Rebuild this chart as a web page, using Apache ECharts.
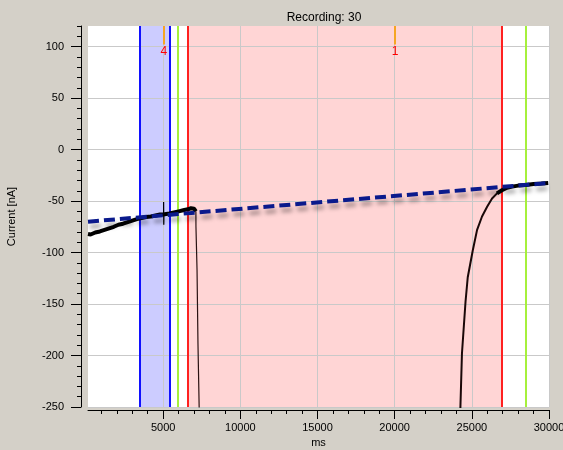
<!DOCTYPE html>
<html>
<head>
<meta charset="utf-8">
<script src="https://cdn.jsdelivr.net/npm/echarts@6/dist/echarts.min.js"></script>
<style>
html,body{margin:0;padding:0;background:#d4d0c8;overflow:hidden;}
#c{width:563px;height:450px;}
</style>
</head>
<body>
<div id="c"></div>
<script>
// ---- data ----
const titleText = 'Recording: 30';
const xName = 'ms';
const yName = 'Current [nA]';
const xRange = [130, 30000];
const yRange = [-250, 120];
const xMajorTicks = [5000, 10000, 15000, 20000, 25000, 30000];
const xMinorTicks = [1000, 2000, 3000, 4000, 6000, 7000, 8000, 9000, 11000, 12000, 13000, 14000, 16000, 17000, 18000, 19000, 21000, 22000, 23000, 24000, 26000, 27000, 28000, 29000];
const yMajorTicks = [-250, -200, -150, -100, -50, 0, 50, 100];
const yMinorTicks = [-240, -230, -220, -210, -190, -180, -170, -160, -140, -130, -120, -110, -90, -80, -70, -60, -40, -30, -20, -10, 10, 20, 30, 40, 60, 70, 80, 90, 110, 120];

// recorded current trace (ms, nA)
const traceLeft = [[130,-82],[300,-82.5],[600,-80.5],[900,-79.5],[1200,-78],[1500,-76.5],[1800,-75],[2100,-73],[2400,-72],[2700,-70.5],[3000,-69],[3300,-67.5],[3600,-66.5],[3900,-65.5],[4200,-65],[4500,-64],[4800,-63],[5000,-63],[5100,-63],[5400,-62],[5700,-61],[6000,-60],[6300,-59],[6600,-58],[6800,-57],[7000,-57.5],[7120,-60]];
const spike = [[5030,-63],[5030,-51],[5040,-73],[5050,-63]];
const dropLeft = [[7120,-60],[7125,-75],[7190,-76],[7195,-117],[7250,-118],[7255,-188],[7340,-189],[7345,-260],[7400,-320]];
const riseRight = [[24150,-320],[24260,-250],[24360,-198],[24590,-148],[24735,-124],[25060,-98],[25340,-78],[25660,-65],[25990,-55.5],[26310,-47.5],[26630,-42.5],[26950,-39.5]];
const traceRight = [[26630,-42.5],[26950,-39.5],[27280,-37],[27600,-36],[28000,-35],[28500,-34.5],[29000,-33.5],[29500,-33],[29950,-32.5]];
// fitted baseline
const fitLine = [[130,-70],[29950,-32.5]];

// cursors / regions (ms)
const blueCursors = [3490, 5440];
const greenCursors = [5960, 28490];
const redCursors = [6590, 26930];
// event markers
const markerMs = [5050, 20030];
const markerText = ['4', '1'];
const markerTop = 120, markerBottom = 102, markerLabelY = 95;

const FONT = 'Liberation Sans';

const chart = echarts.init(document.getElementById('c'), null, {renderer: 'canvas'});

const vLines = [];
blueCursors.forEach(v => vLines.push({xAxis: v, lineStyle: {color: '#1010ff', width: 2, type: 'solid'}}));
greenCursors.forEach(v => vLines.push({xAxis: v, lineStyle: {color: '#a6f03c', width: 2, type: 'solid'}}));
redCursors.forEach(v => vLines.push({xAxis: v, lineStyle: {color: '#ff2020', width: 2, type: 'solid'}}));
markerMs.forEach(v => vLines.push([{coord: [v, markerTop], lineStyle: {color: '#f5a623', width: 2, type: 'solid'}}, {coord: [v, markerBottom]}]));

const gridLines = [];
xMajorTicks.forEach(v => gridLines.push({xAxis: v}));
yMajorTicks.forEach(v => gridLines.push({yAxis: v}));

const markerPoints = markerMs.map((v, i) => ({
  coord: [v, markerLabelY], value: markerText[i], symbol: 'rect', symbolSize: 1,
  itemStyle: {color: 'rgba(0,0,0,0)'},
  label: {show: true, position: 'inside', formatter: markerText[i], color: '#ff0000', opacity: 1,
    fontFamily: FONT, fontSize: 12}
}));

const plain = v => String(v);

const option = {
  animation: false,
  backgroundColor: '#d4d0c8',
  title: {
    text: titleText, left: 319, top: 7, textAlign: 'center',
    textStyle: {fontFamily: FONT, fontSize: 12, fontWeight: 'normal', color: '#000'}
  },
  grid: {left: 88, right: 14, top: 26, bottom: 43, show: true, backgroundColor: '#ffffff', borderWidth: 0,
    containLabel: false, outerBoundsMode: 'none'},
  xAxis: [{
    type: 'value', min: xRange[0], max: xRange[1], position: 'bottom', offset: 3,
    axisLine: {show: true, onZero: false, lineStyle: {color: '#000', width: 1}},
    axisTick: {show: true, customValues: xMajorTicks, length: 9, lineStyle: {color: '#000'}},
    axisLabel: {customValues: xMajorTicks, formatter: plain, color: '#000', fontFamily: FONT, fontSize: 11, margin: 12},
    splitLine: {show: false},
    name: xName, nameLocation: 'middle', nameGap: 27,
    nameTextStyle: {fontFamily: FONT, fontSize: 11, color: '#000'}
  }, {
    type: 'value', min: xRange[0], max: xRange[1], position: 'bottom', offset: 3,
    axisLine: {show: false, onZero: false},
    axisTick: {show: true, customValues: xMinorTicks, length: 4, lineStyle: {color: '#000'}},
    axisLabel: {show: false},
    splitLine: {show: false}
  }],
  yAxis: [{
    type: 'value', min: yRange[0], max: yRange[1], position: 'left', offset: 7,
    axisLine: {show: true, onZero: false, lineStyle: {color: '#000', width: 1}},
    axisTick: {show: true, customValues: yMajorTicks, length: 10, lineStyle: {color: '#000'}},
    axisLabel: {customValues: yMajorTicks, formatter: plain, color: '#000', fontFamily: FONT, fontSize: 11, margin: 17},
    splitLine: {show: false},
    name: yName, nameLocation: 'middle', nameGap: 64, nameRotate: 90,
    nameTextStyle: {fontFamily: FONT, fontSize: 11, color: '#000'}
  }, {
    type: 'value', min: yRange[0], max: yRange[1], position: 'left', offset: 7,
    axisLine: {show: false, onZero: false},
    axisTick: {show: true, customValues: yMinorTicks, length: 4, lineStyle: {color: '#000'}},
    axisLabel: {show: false},
    splitLine: {show: false}
  }],
  series: [
    {
      name: 'grid', type: 'line', data: [], z: 1, silent: true,
      markLine: {silent: true, symbol: 'none', label: {show: false},
        lineStyle: {color: '#c9c9c9', width: 1, type: 'solid'}, data: gridLines}
    },
    {
      name: 'regions', type: 'line', data: [], z: 2, silent: true,
      markArea: {silent: true, data: [
        [{xAxis: blueCursors[0], itemStyle: {color: 'rgba(0,0,255,0.2)'}}, {xAxis: blueCursors[1]}],
        [{xAxis: redCursors[0], itemStyle: {color: 'rgba(255,0,0,0.165)'}}, {xAxis: redCursors[1]}]
      ]}
    },
    {
      name: 'cursors', type: 'line', data: [], z: 3, silent: true,
      markLine: {silent: true, symbol: 'none', label: {show: false}, data: vLines},
      markPoint: {silent: true, data: markerPoints}
    },
    {type: 'line', data: traceLeft, z: 5, symbol: 'none', lineStyle: {color: '#000', width: 4}},
    {type: 'line', data: spike, z: 5, symbol: 'none', lineStyle: {color: '#000', width: 1.2}},
    {type: 'line', data: dropLeft, z: 5, symbol: 'none', lineStyle: {color: '#2a1212', width: 1.2}},
    {type: 'line', data: riseRight, z: 5, symbol: 'none', lineStyle: {color: '#1a0808', width: 2}},
    {type: 'line', data: traceRight, z: 5, symbol: 'none', lineStyle: {color: '#000', width: 4}},
    {type: 'line', data: fitLine, z: 6, symbol: 'none',
      lineStyle: {color: '#0a1a8c', width: 4, type: [11, 5], shadowColor: 'rgba(0,0,0,0.35)', shadowBlur: 4, shadowOffsetX: 2, shadowOffsetY: 5}}
  ]
};
chart.setOption(option);
</script>
</body>
</html>
